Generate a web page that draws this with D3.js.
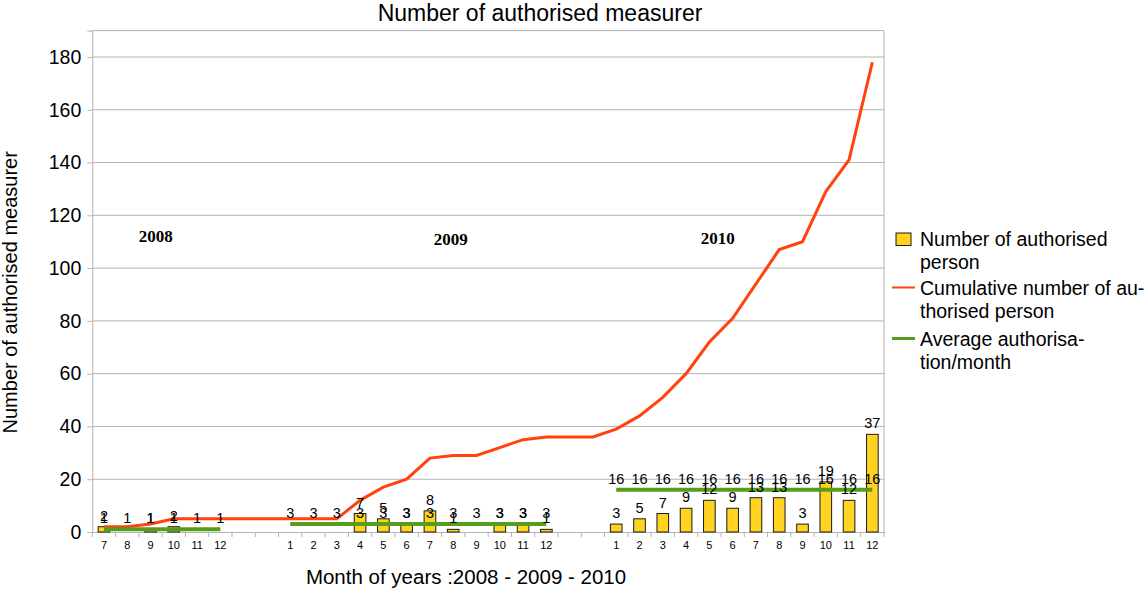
<!DOCTYPE html>
<html>
<head>
<meta charset="utf-8">
<script src="https://cdn.jsdelivr.net/npm/d3@7"></script>
<style>
  html, body { margin: 0; padding: 0; background: #fff; }
  svg { display: block; font-family: "Liberation Sans", Arial, sans-serif; }
</style>
</head>
<body>
<svg id="chart" width="1147" height="590"></svg>
<script>
// ---- Data ----
const months2008 = ["7", "8", "9", "10", "11", "12"];
const bars2008 = [2, 0, 1, 2, 0, 0];
const avg2008 = 1;

const gapAfter2008 = ["", ""];

const months2009 = ["1", "2", "3", "4", "5", "6", "7", "8", "9", "10", "11", "12"];
const bars2009 = [0, 0, 0, 7, 5, 3, 8, 1, 0, 3, 3, 1];
const avg2009 = 3;

const gapAfter2009 = ["", ""];

const months2010 = ["1", "2", "3", "4", "5", "6", "7", "8", "9", "10", "11", "12"];
const bars2010 = [3, 5, 7, 9, 12, 9, 13, 13, 3, 19, 12, 37];
const avg2010 = 16;

// cumulative value at every category (including the two gap slots between years)
const cumulative = [2, 2, 3, 5, 5, 5,
                    5, 5,
                    5, 5, 5, 12, 17, 20, 28, 29, 29, 32, 35, 36,
                    36, 36,
                    39, 44, 51, 60, 72, 81, 94, 107, 110, 129, 141, 178];

const yTicks = [0, 20, 40, 60, 80, 100, 120, 140, 160, 180];
const yearLabels = ["2008", "2009", "2010"];

const titleText = "Number of authorised measurer";
const yTitle = "Number of authorised measurer";
const xTitle = "Month of years :2008 - 2009 - 2010";
const legendItems = [
  { type: "bar", lines: ["Number of authorised", "person"] },
  { type: "cum", lines: ["Cumulative number of au-", "thorised person"] },
  { type: "avg", lines: ["Average authorisa-", "tion/month"] }
];

(function () {
// ---- Build categories ----
const cats = [];
function addYear(labels, bars, avg, yearIdx) {
  labels.forEach((m, i) => cats.push({ label: m, bar: bars[i], avg: avg, year: yearIdx }));
}
function addGap(g) { g.forEach(l => cats.push({ label: l, bar: null, avg: null, year: null })); }
addYear(months2008, bars2008, avg2008, 0);
addGap(gapAfter2008);
addYear(months2009, bars2009, avg2009, 1);
addGap(gapAfter2009);
addYear(months2010, bars2010, avg2010, 2);
cats.forEach((c, i) => { c.idx = i; c.cum = cumulative[i]; });

// ---- Colors ----
const C_BAR = "#ffd320";
const C_CUM = "#ff420e";
const C_AVG = "#579d1c";
const C_GRID = "#b3b3b3";

// ---- Layout ----
const pL = 92.3, pR = 884, pT = 30.6, pB = 532;
const svg = d3.select("#chart");

const x = d3.scaleBand().domain(cats.map(c => c.idx)).range([pL, pR]).padding(0);
const y = d3.scaleLinear().domain([0, 190]).range([pB, pT]);
const xc = i => x(i) + x.bandwidth() / 2;

// gridlines
svg.append("g").selectAll("line").data(yTicks.filter(t => t > 0)).join("line")
  .attr("x1", pL).attr("x2", pR)
  .attr("y1", d => y(d)).attr("y2", d => y(d))
  .attr("stroke", C_GRID).attr("stroke-width", 1);

// plot frame (top + right)
svg.append("line").attr("x1", pL).attr("x2", pR).attr("y1", pT).attr("y2", pT)
  .attr("stroke", C_GRID).attr("stroke-width", 1);
svg.append("line").attr("x1", pR).attr("x2", pR).attr("y1", pT).attr("y2", pB)
  .attr("stroke", C_GRID).attr("stroke-width", 1);

// Y axis
const yAxis = d3.axisLeft(y).tickValues(yTicks).tickSize(5).tickPadding(6).tickFormat(d3.format("d"));
const gy = svg.append("g").attr("transform", `translate(${pL},0)`).call(yAxis);
gy.select(".domain").attr("stroke", C_GRID);
gy.selectAll(".tick line").attr("stroke", C_GRID);
gy.selectAll(".tick text").attr("font-size", 19.5).attr("fill", "#000")
  .attr("font-family", "Liberation Sans, Arial, sans-serif");

// X axis
const xAxis = d3.axisBottom(x).tickSize(0).tickPadding(9).tickFormat(i => cats[i].label);
const gx = svg.append("g").attr("transform", `translate(0,${pB})`).call(xAxis);
gx.select(".domain").attr("stroke", C_GRID);
gx.selectAll(".tick text").attr("font-size", 11).attr("fill", "#000")
  .attr("font-family", "Liberation Sans, Arial, sans-serif");
// boundary tick marks
const bounds = cats.map(c => x(c.idx)).concat([pR]);
svg.append("g").selectAll("line").data(bounds).join("line")
  .attr("x1", d => d).attr("x2", d => d)
  .attr("y1", pB).attr("y2", pB + 5)
  .attr("stroke", C_GRID).attr("stroke-width", 1);

// Bars
const barW = x.bandwidth() * 0.5;
svg.append("g").selectAll("rect").data(cats.filter(c => c.bar)).join("rect")
  .attr("x", d => xc(d.idx) - barW / 2)
  .attr("y", d => y(d.bar))
  .attr("width", barW)
  .attr("height", d => y(0) - y(d.bar))
  .attr("fill", C_BAR)
  .attr("stroke", "#1a1a1a").attr("stroke-width", 1);

// Cumulative line
const line = d3.line().x(d => xc(d.idx)).y(d => y(d.cum));
svg.append("path").datum(cats).attr("d", line)
  .attr("fill", "none").attr("stroke", C_CUM).attr("stroke-width", 3)
  .attr("stroke-linejoin", "miter");

// Average lines per year
const avgLine = d3.line().x(d => xc(d.idx)).y(d => y(d.avg));
[0, 1, 2].forEach(yr => {
  const seg = cats.filter(c => c.year === yr);
  svg.append("path").datum(seg).attr("d", avgLine)
    .attr("fill", "none").attr("stroke", C_AVG).attr("stroke-width", 4);
});

// Data labels
const lblG = svg.append("g").attr("font-size", 14.5).attr("text-anchor", "middle").attr("fill", "#000");
lblG.selectAll("text.bl").data(cats.filter(c => c.bar)).join("text")
  .attr("class", "bl")
  .attr("x", d => xc(d.idx)).attr("y", d => y(d.bar) - 6)
  .text(d => d.bar);
lblG.selectAll("text.al").data(cats.filter(c => c.year !== null)).join("text")
  .attr("class", "al")
  .attr("x", d => xc(d.idx)).attr("y", d => y(d.avg) - 6)
  .text(d => d.avg);

// Year labels
const yearPos = [
  { cx: 155.7, by: 242.3 },
  { cx: 450.7, by: 245 },
  { cx: 717.7, by: 244.3 }
];
svg.append("g").selectAll("text").data(yearLabels).join("text")
  .attr("x", (d, i) => yearPos[i].cx).attr("y", (d, i) => yearPos[i].by)
  .attr("text-anchor", "middle")
  .attr("font-family", "Liberation Serif, 'Times New Roman', serif")
  .attr("font-weight", "bold").attr("font-size", 17)
  .text(d => d);

// Title
svg.append("text").attr("x", 540).attr("y", 21).attr("text-anchor", "middle")
  .attr("font-size", 23).text(titleText);

// Axis titles
svg.append("text").attr("transform", `translate(16.5,${(pT + pB) / 2 + 11}) rotate(-90)`)
  .attr("text-anchor", "middle").attr("font-size", 20).text(yTitle);
svg.append("text").attr("x", 466).attr("y", 584).attr("text-anchor", "middle")
  .attr("font-size", 20.5).text(xTitle);

// Legend
const lg = svg.append("g").attr("font-size", 19.5);
const entryBase = [246, 295, 346];
const lineGap = 22.5;
legendItems.forEach((it, i) => {
  const b = entryBase[i];
  if (it.type === "bar") {
    lg.append("rect").attr("x", 896).attr("y", b - 13).attr("width", 15).attr("height", 12.5)
      .attr("fill", C_BAR).attr("stroke", "#1a1a1a").attr("stroke-width", 1);
  } else {
    lg.append("line").attr("x1", 892).attr("x2", 915).attr("y1", b - 7.5).attr("y2", b - 7.5)
      .attr("stroke", it.type === "cum" ? C_CUM : C_AVG).attr("stroke-width", it.type === "cum" ? 2 : 3);
  }
  it.lines.forEach((t, j) => {
    lg.append("text").attr("x", 920).attr("y", b + j * lineGap).text(t);
  });
});
})();
</script>
</body>
</html>
